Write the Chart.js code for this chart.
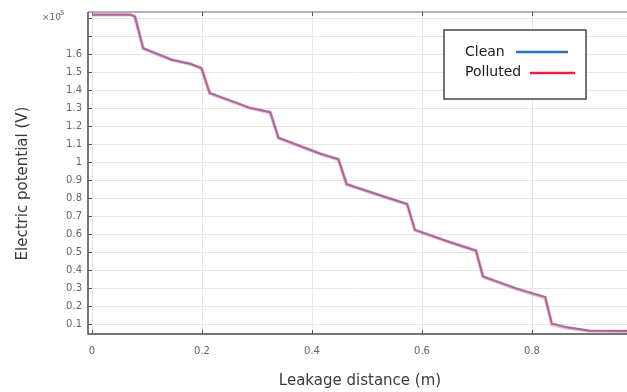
<!DOCTYPE html>
<html>
<head>
<meta charset="utf-8">
<script src="https://cdn.jsdelivr.net/npm/chart.js@4/dist/chart.umd.min.js"></script>
<style>
  html, body { margin: 0; padding: 0; background: #ffffff; }
  #wrap { width: 627px; height: 392px; position: relative; }
</style>
</head>
<body>
<div id="wrap"><canvas id="c" width="627" height="392"></canvas></div>
<script>
// Leakage distance (m)
const distance = [0, 0.07, 0.078, 0.093, 0.145, 0.178, 0.199, 0.214, 0.287, 0.324, 0.339, 0.415, 0.448, 0.463, 0.536, 0.573, 0.587, 0.651, 0.698, 0.711, 0.772, 0.824, 0.836, 0.863, 0.905, 0.973];
// Electric potential (×10^5 V)
const clean    = [1.82, 1.82, 1.81, 1.634, 1.57, 1.547, 1.523, 1.385, 1.302, 1.278, 1.136, 1.047, 1.016, 0.878, 0.804, 0.768, 0.624, 0.555, 0.509, 0.365, 0.297, 0.251, 0.104, 0.082, 0.063, 0.061];
const polluted = [1.82, 1.82, 1.81, 1.632, 1.569, 1.546, 1.521, 1.383, 1.301, 1.276, 1.134, 1.046, 1.015, 0.876, 0.803, 0.766, 0.622, 0.554, 0.508, 0.363, 0.296, 0.246, 0.098, 0.080, 0.062, 0.060];
const xTicks = [0, 0.2, 0.4, 0.6, 0.8];
const xTickLabels = ['0', '0.2', '0.4', '0.6', '0.8'];
const yTicks = [0.1, 0.2, 0.3, 0.4, 0.5, 0.6, 0.7, 0.8, 0.9, 1.0, 1.1, 1.2, 1.3, 1.4, 1.5, 1.6, 1.7, 1.8];
const yTickLabels = ['0.1', '0.2', '0.3', '0.4', '0.5', '0.6', '0.7', '0.8', '0.9', '1', '1.1', '1.2', '1.3', '1.4', '1.5', '1.6', '', ''];
const seriesNames = ['Clean', 'Polluted'];
const seriesColors = ['#2f72b4', '#ec1f45'];
const xTitle = 'Leakage distance (m)';
const yTitle = 'Electric potential (V)';
const yExponent = '5';

const FONT = '"DejaVu Sans", sans-serif';

const decor = {
  id: 'decor',
  beforeDatasetsDraw(chart) {
    const {ctx, chartArea: a, scales: {x, y}} = chart;
    ctx.save();
    ctx.strokeStyle = '#9a9a9a';
    ctx.lineWidth = 1.5;
    ctx.beginPath();
    ctx.moveTo(a.left, a.top); ctx.lineTo(a.right, a.top);
    ctx.stroke();
    ctx.strokeStyle = '#4a4a4a';
    ctx.beginPath();
    ctx.moveTo(a.left, a.top); ctx.lineTo(a.left, a.bottom); ctx.lineTo(a.right, a.bottom);
    ctx.stroke();
    ctx.lineWidth = 1;
    ctx.strokeStyle = '#555';
    ctx.beginPath();
    yTicks.forEach(v => { const py = Math.round(y.getPixelForValue(v)) + 0.5; ctx.moveTo(a.left, py); ctx.lineTo(a.left + 4, py); });
    xTicks.forEach(v => { const px = Math.round(x.getPixelForValue(v)) + 0.5; ctx.moveTo(px, a.bottom); ctx.lineTo(px, a.bottom - 4); ctx.moveTo(px, a.top); ctx.lineTo(px, a.top + 4); });
    ctx.stroke();
    ctx.restore();
  },
  afterDraw(chart) {
    const {ctx} = chart;
    ctx.save();
    ctx.fillStyle = '#3a3a3a';
    ctx.font = '15px ' + FONT;
    ctx.textAlign = 'center';
    ctx.textBaseline = 'middle';
    ctx.fillText(xTitle, 360, 381);
    ctx.save();
    ctx.translate(23.5, 183.5);
    ctx.rotate(-Math.PI / 2);
    ctx.fillText(yTitle, 0, 0);
    ctx.restore();
    ctx.fillStyle = '#666';
    ctx.font = '9px ' + FONT;
    ctx.textAlign = 'left';
    ctx.fillText('×10', 42, 18);
    ctx.font = '7px ' + FONT;
    ctx.fillText(yExponent, 60, 13);
    ctx.fillStyle = '#ffffff';
    ctx.fillRect(444, 30, 142, 69);
    ctx.strokeStyle = '#444';
    ctx.lineWidth = 1.5;
    ctx.strokeRect(444, 30, 142, 69);
    ctx.font = '14px ' + FONT;
    ctx.fillStyle = '#1a1a1a';
    ctx.textAlign = 'left';
    ctx.textBaseline = 'middle';
    ctx.fillText(seriesNames[0], 465, 52);
    ctx.fillText(seriesNames[1], 465, 72);
    ctx.lineWidth = 2.5;
    ctx.strokeStyle = seriesColors[0];
    ctx.beginPath(); ctx.moveTo(516, 52); ctx.lineTo(568, 52); ctx.stroke();
    ctx.strokeStyle = seriesColors[1];
    ctx.beginPath(); ctx.moveTo(530, 73); ctx.lineTo(575, 73); ctx.stroke();
    ctx.restore();
  }
};

new Chart(document.getElementById('c'), {
  type: 'line',
  data: {
    datasets: [
      {
        label: seriesNames[0],
        data: distance.map((d, i) => ({x: d, y: clean[i]})),
        borderColor: '#6f7fb0',
        borderWidth: 2,
        pointRadius: 0,
        tension: 0,
        order: 2
      },
      {
        label: seriesNames[1],
        data: distance.map((d, i) => ({x: d, y: polluted[i]})),
        borderColor: 'rgba(230,80,130,0.42)',
        borderWidth: 3.5,
        pointRadius: 0,
        tension: 0,
        order: 1
      }
    ]
  },
  options: {
    responsive: false,
    animation: false,
    events: [],
    layout: { padding: { left: 0, right: 0, top: 10, bottom: 0 } },
    plugins: { legend: { display: false }, tooltip: { enabled: false } },
    scales: {
      x: {
        type: 'linear',
        min: -0.0073,
        max: 0.9727,
        afterBuildTicks: s => { s.ticks = xTicks.map(v => ({value: v})); },
        afterFit: s => { s.height = 58; },
        ticks: {
          callback: (v) => { const i = xTicks.findIndex(t => Math.abs(t - v) < 1e-9); return i >= 0 ? xTickLabels[i] : ''; },
          font: { family: FONT, size: 10 },
          color: '#666',
          padding: 11,
          maxRotation: 0,
          autoSkip: false
        },
        grid: { color: '#e6e6e6', drawTicks: false },
        border: { display: false }
      },
      y: {
        type: 'linear',
        min: 0.045,
        max: 1.835,
        afterBuildTicks: s => { s.ticks = yTicks.map(v => ({value: v})); },
        afterFit: s => { s.width = 88; },
        ticks: {
          callback: (v) => { const i = yTicks.findIndex(t => Math.abs(t - v) < 1e-9); return i >= 0 ? yTickLabels[i] : ''; },
          font: { family: FONT, size: 10 },
          color: '#666',
          padding: 6,
          autoSkip: false
        },
        grid: { color: '#e6e6e6', drawTicks: false },
        border: { display: false }
      }
    }
  },
  plugins: [decor]
});
</script>
</body>
</html>
